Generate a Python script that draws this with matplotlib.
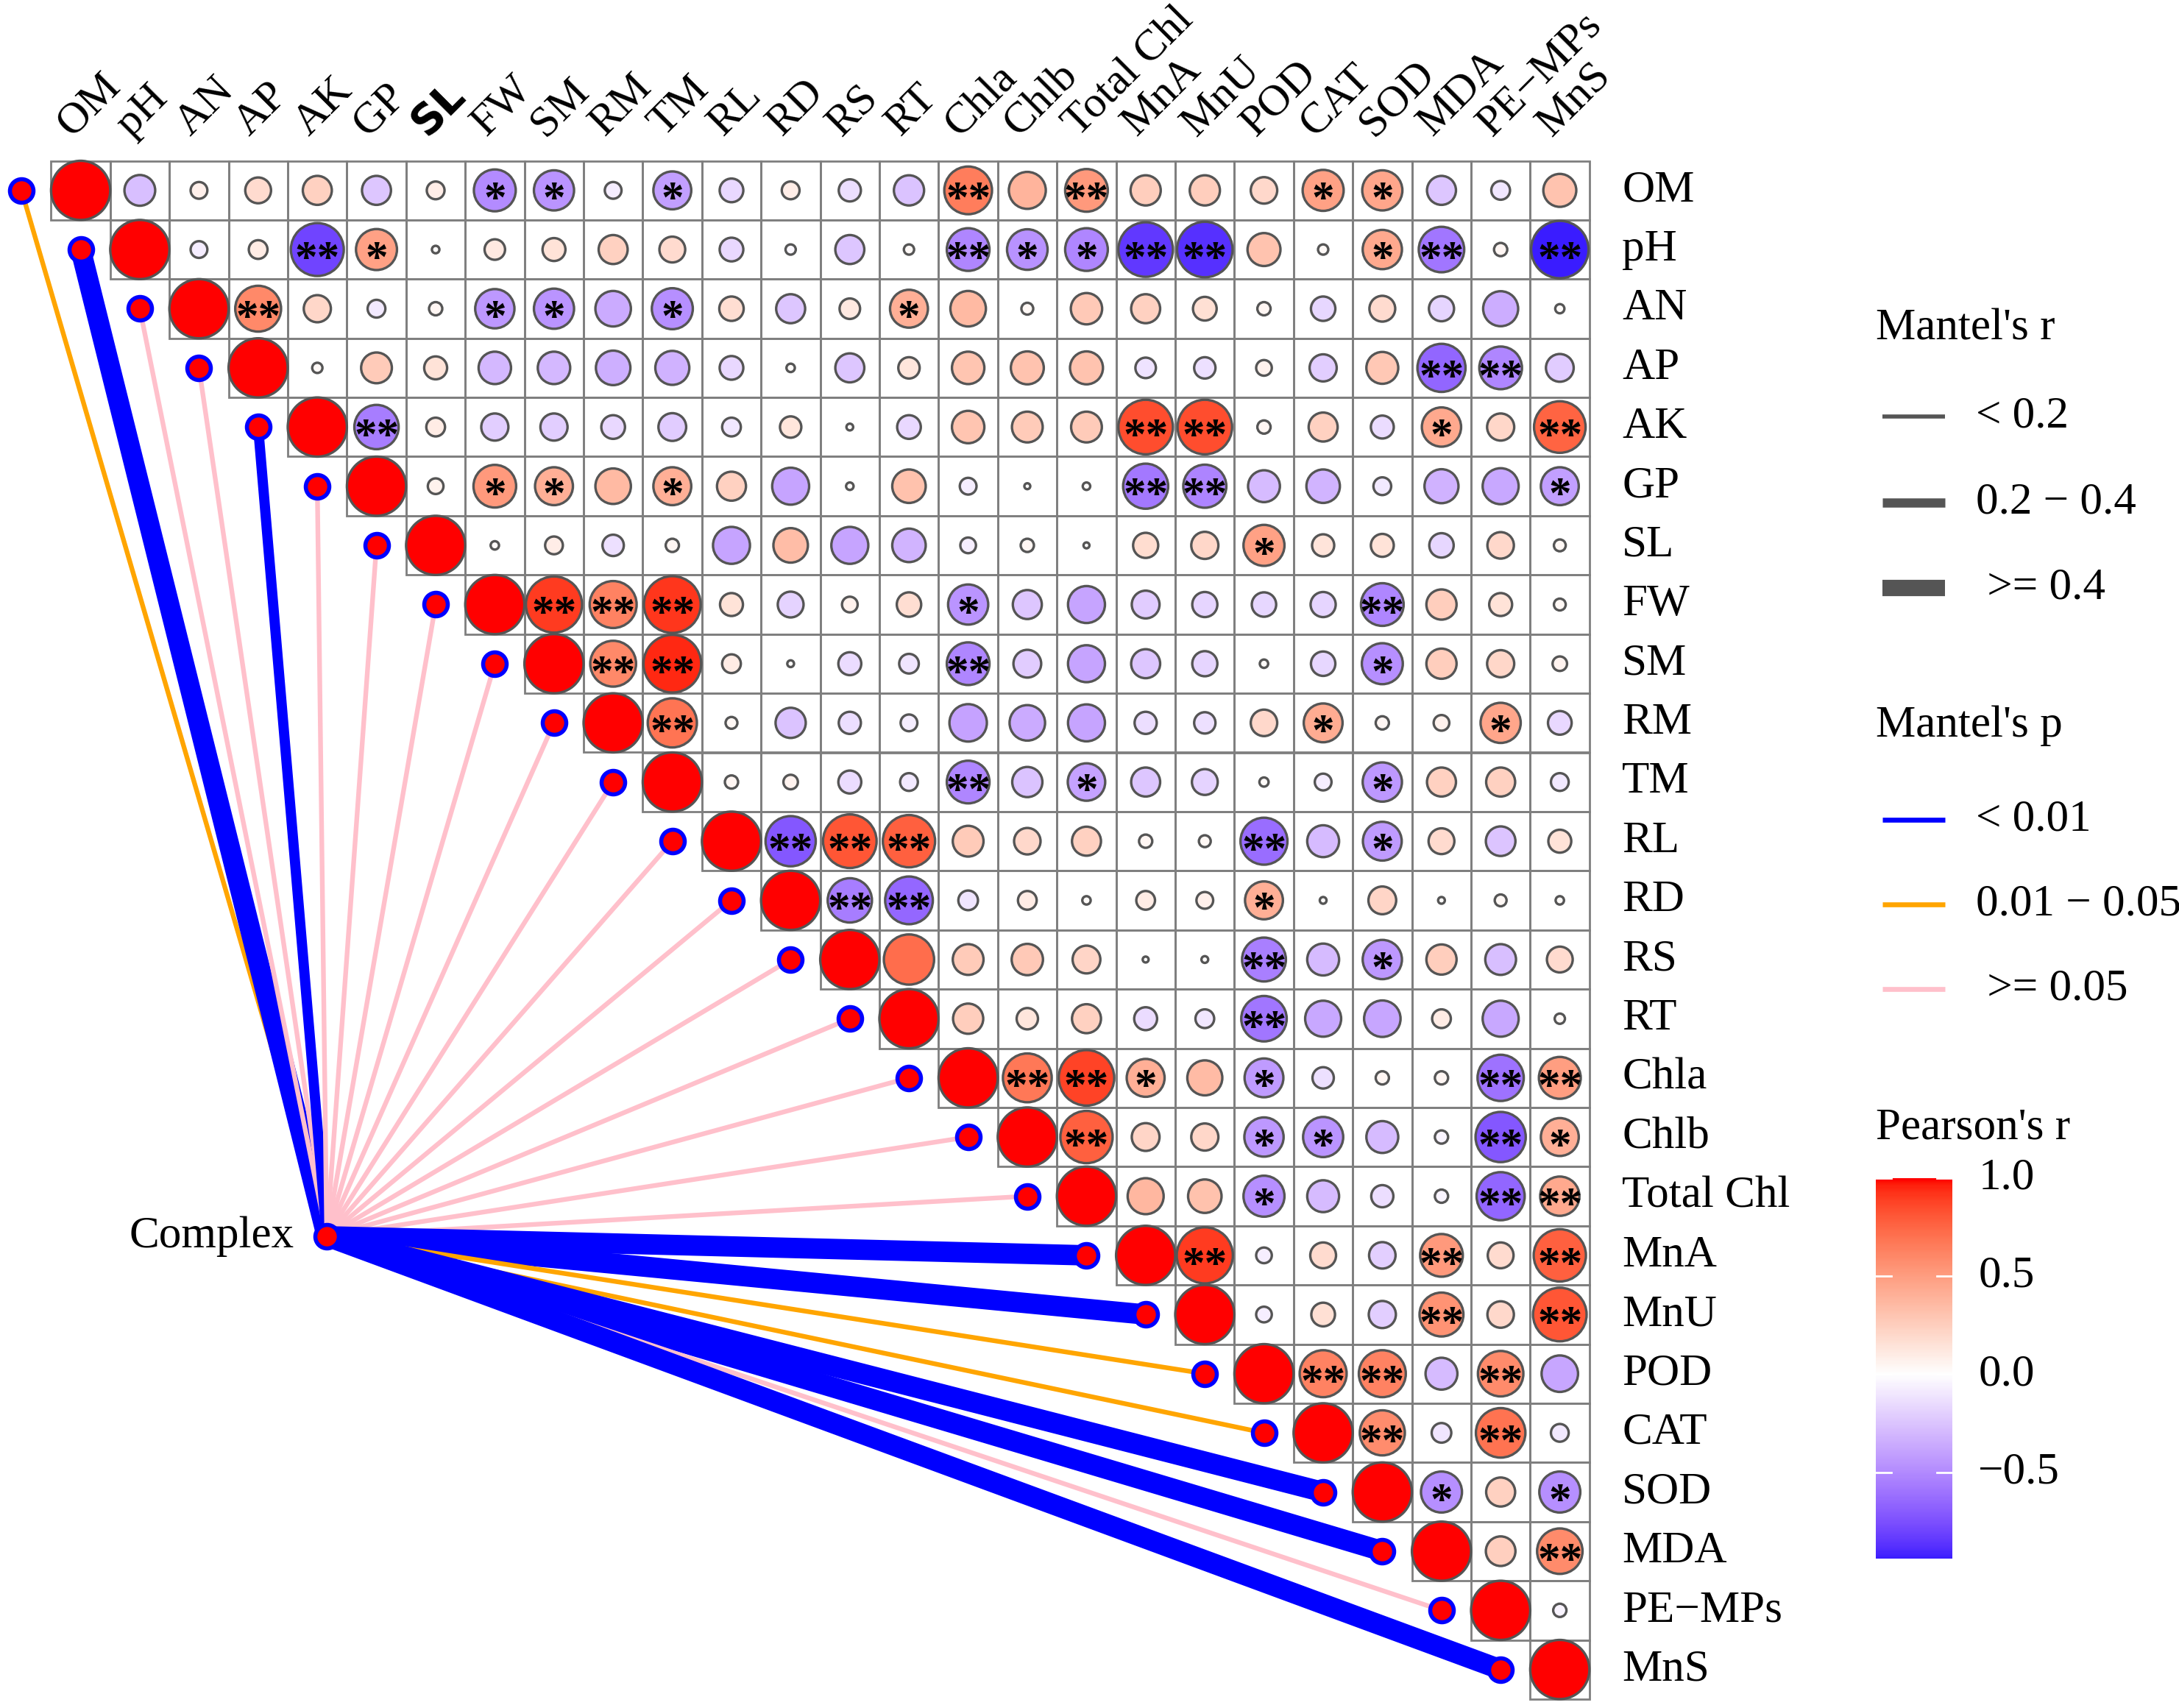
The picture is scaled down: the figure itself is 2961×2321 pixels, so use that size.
import numpy as np
import matplotlib
matplotlib.use("Agg")
import matplotlib.pyplot as plt
import matplotlib.colors as mcolors
from matplotlib.patches import Circle, Rectangle

plt.rcParams['font.family'] = ['Liberation Serif', 'DejaVu Serif']

variables = ["OM", "pH", "AN", "AP", "AK", "GP", "SL", "FW", "SM", "RM", "TM",
             "RL", "RD", "RS", "RT", "Chla", "Chlb", "Total Chl", "MnA", "MnU",
             "POD", "CAT", "SOD", "MDA", "PE\u2212MPs", "MnS"]

# Pearson's r, upper triangle: row i holds the values for columns i+1 .. 25
r_rows = [
    [-0.27, 0.08, 0.19, 0.24, -0.24, 0.09, -0.5, -0.46, -0.08, -0.41, -0.16, 0.09, -0.14,
     -0.26, 0.65, 0.39, 0.52, 0.26, 0.26, 0.2, 0.48, 0.46, -0.24, -0.1, 0.31],
    [-0.08, 0.1, -0.8, 0.48, 0.016, 0.12, 0.15, 0.24, 0.19, -0.16, -0.03, -0.24, 0.03,
     -0.52, -0.47, -0.52, -0.85, -0.88, 0.31, 0.03, 0.44, -0.59, 0.05, -0.94],
    [0.6, 0.21, -0.09, 0.05, -0.44, -0.46, -0.36, -0.48, 0.17, -0.24, 0.12, 0.41, 0.36,
     0.04, 0.28, 0.24, 0.16, 0.05, -0.17, 0.19, -0.18, -0.35, 0.024],
    [0.03, 0.27, 0.15, -0.3, -0.3, -0.34, -0.33, -0.16, 0.02, -0.24, 0.13, 0.3, 0.31,
     0.31, -0.12, -0.13, 0.07, -0.21, 0.29, -0.66, -0.52, -0.22],
    [-0.56, 0.1, -0.21, -0.21, -0.16, -0.22, -0.1, 0.13, 0.013, -0.16, 0.3, 0.27, 0.27,
     0.85, 0.85, 0.05, 0.24, -0.15, 0.44, 0.21, 0.76],
    [0.07, 0.52, 0.41, 0.36, 0.41, 0.24, -0.39, 0.016, 0.32, -0.08, 0.01, 0.016, -0.58,
     -0.53, -0.29, -0.32, -0.09, -0.33, -0.37, -0.41],
    [0.02, 0.09, -0.13, 0.05, -0.39, 0.34, -0.39, -0.32, -0.07, 0.05, 0.01, 0.18, 0.21,
     0.48, 0.14, 0.15, -0.17, 0.2, 0.04],
    [0.9, 0.63, 0.92, 0.15, -0.19, 0.07, 0.17, -0.46, -0.24, -0.39, -0.22, -0.18, -0.17,
     -0.18, -0.52, 0.26, 0.15, 0.04],
    [0.6, 0.95, 0.1, 0.013, -0.15, -0.11, -0.52, -0.22, -0.39, -0.24, -0.18, 0.02, -0.17,
     -0.48, 0.26, 0.21, 0.06],
    [0.69, 0.04, -0.26, -0.14, -0.08, -0.4, -0.36, -0.39, -0.14, -0.13, 0.2, 0.43, 0.05,
     0.07, 0.46, -0.16],
    [0.05, 0.06, -0.15, -0.09, -0.52, -0.26, -0.4, -0.24, -0.19, 0.024, -0.08, -0.44, 0.24,
     0.24, -0.09],
    [-0.72, 0.82, 0.78, 0.27, 0.2, 0.24, 0.05, 0.04, -0.63, -0.29, -0.43, 0.19, -0.25, 0.15],
    [-0.56, -0.65, -0.11, 0.1, 0.02, 0.1, 0.08, 0.41, 0.013, 0.22, 0.013, 0.04, 0.02],
    [0.72, 0.27, 0.28, 0.22, 0.01, 0.013, -0.55, -0.29, -0.44, 0.26, -0.27, 0.19],
    [0.26, 0.13, 0.24, -0.15, -0.1, -0.59, -0.37, -0.38, 0.1, -0.37, 0.03],
    [0.68, 0.88, 0.41, 0.35, -0.43, -0.13, 0.05, 0.05, -0.61, 0.5],
    [0.78, 0.22, 0.21, -0.44, -0.46, -0.29, -0.05, -0.72, 0.41],
    [0.37, 0.32, -0.48, -0.29, -0.14, -0.05, -0.66, 0.44],
    [0.9, -0.07, 0.19, -0.2, 0.52, 0.19, 0.78],
    [-0.07, 0.16, -0.21, 0.55, 0.2, 0.82],
    [0.63, 0.63, -0.29, 0.59, -0.38],
    [0.58, -0.11, 0.7, -0.09],
    [-0.48, 0.24, -0.48],
    [0.25, 0.59],
    [-0.05],
]

star_rows = [
    ["", "", "", "", "", "", "*", "*", "", "*", "", "", "", "", "**", "", "**", "", "", "", "*", "*", "", "", ""],
    ["", "", "**", "*", "", "", "", "", "", "", "", "", "", "**", "*", "*", "**", "**", "", "", "*", "**", "", "**"],
    ["**", "", "", "", "*", "*", "", "*", "", "", "", "*", "", "", "", "", "", "", "", "", "", "", ""],
    ["", "", "", "", "", "", "", "", "", "", "", "", "", "", "", "", "", "", "", "**", "**", ""],
    ["**", "", "", "", "", "", "", "", "", "", "", "", "", "**", "**", "", "", "", "*", "", "**"],
    ["", "*", "*", "", "*", "", "", "", "", "", "", "", "**", "**", "", "", "", "", "", "*"],
    ["", "", "", "", "", "", "", "", "", "", "", "", "", "*", "", "", "", "", ""],
    ["**", "**", "**", "", "", "", "", "*", "", "", "", "", "", "", "**", "", "", ""],
    ["**", "**", "", "", "", "", "**", "", "", "", "", "", "", "*", "", "", ""],
    ["**", "", "", "", "", "", "", "", "", "", "", "*", "", "", "*", ""],
    ["", "", "", "", "**", "", "*", "", "", "", "", "*", "", "", ""],
    ["**", "**", "**", "", "", "", "", "", "**", "", "*", "", "", ""],
    ["**", "**", "", "", "", "", "", "*", "", "", "", "", ""],
    ["", "", "", "", "", "", "**", "", "*", "", "", ""],
    ["", "", "", "", "", "**", "", "", "", "", ""],
    ["**", "**", "*", "", "*", "", "", "", "**", "**"],
    ["**", "", "", "*", "*", "", "", "**", "*"],
    ["", "", "*", "", "", "", "**", "**"],
    ["**", "", "", "", "**", "", "**"],
    ["", "", "", "**", "", "**"],
    ["**", "**", "", "**", ""],
    ["**", "", "**", ""],
    ["*", "", "*"],
    ["", "**"],
    [""],
]

# Mantel test of each variable against "Complex"
mantel_r = [0.1, 0.5, 0.1, 0.1, 0.3, 0.1, 0.1, 0.1, 0.1, 0.1, 0.1, 0.1, 0.1,
            0.1, 0.1, 0.1, 0.1, 0.1, 0.5, 0.5, 0.1, 0.1, 0.5, 0.5, 0.1, 0.5]
mantel_p = [0.03, 0.001, 0.3, 0.3, 0.001, 0.3, 0.3, 0.3, 0.3, 0.3, 0.3, 0.3, 0.3,
            0.3, 0.3, 0.3, 0.3, 0.3, 0.001, 0.001, 0.03, 0.03, 0.001, 0.001, 0.3, 0.001]

r_labels = ["< 0.2", "0.2 \u2212 0.4", " >= 0.4"]
p_labels = ["< 0.01", "0.01 \u2212 0.05", " >= 0.05"]
r_widths = [2.3, 5.0, 10.0]
p_colors = ["#0000FF", "#FFA500", "#FFC0CB"]
cbar_ticks = [1.0, 0.5, 0.0, -0.5]


# ggplot-like gradient2 (blue - white - red, interpolated in Lab)
M = np.array([[0.4124564, 0.3575761, 0.1804375],
              [0.2126729, 0.7151522, 0.0721750],
              [0.0193339, 0.1191920, 0.9503041]])
WHITE = np.array([0.95047, 1.0, 1.08883])


def to_lab(c):
    rgb = np.array(mcolors.to_rgb(c))
    lin = np.where(rgb <= 0.04045, rgb / 12.92, ((rgb + 0.055) / 1.055) ** 2.4)
    xyz = M @ lin / WHITE
    f = np.where(xyz > 216 / 24389, np.cbrt(xyz), (24389 / 27 * xyz + 16) / 116)
    return np.array([116 * f[1] - 16, 500 * (f[0] - f[1]), 200 * (f[1] - f[2])])


def from_lab(lab):
    fy = (lab[0] + 16) / 116
    f = np.array([fy + lab[1] / 500, fy, fy - lab[2] / 200])
    xyz = np.where(f ** 3 > 216 / 24389, f ** 3, (116 * f - 16) / (24389 / 27)) * WHITE
    lin = np.clip(np.linalg.solve(M, xyz), 0, 1)
    rgb = np.where(lin <= 0.0031308, 12.92 * lin, 1.055 * lin ** (1 / 2.4) - 0.055)
    return np.clip(rgb, 0, 1)


lab_b, lab_w, lab_r = to_lab("blue"), to_lab("white"), to_lab("red")
cols = []
for v in np.linspace(-1, 1, 257):
    end = lab_b if v < 0 else lab_r
    cols.append(from_lab(lab_w + (end - lab_w) * abs(v)))
cmap = mcolors.ListedColormap(cols)
norm = mcolors.Normalize(-1, 1)

# layout (pixels of the 2961 x 2321 picture)
W, H, DPI = 2961, 2321, 200
X0, Y0, CELL = 109.6, 258.7, 80.4


def dx(px):
    return (px - X0) / CELL


def dy(px):
    return (px - Y0) / CELL


fig = plt.figure(figsize=(W / DPI, H / DPI), dpi=DPI)
ax = fig.add_axes([0, 0, 1, 1])
ax.set_xlim(dx(0), dx(W))
ax.set_ylim(dy(H), dy(0))
ax.axis("off")

n = len(variables)
FS = 22

# Mantel links
cx, cy = dx(444), dy(1680)


def r_class(v):
    return 0 if v < 0.2 else (1 if v < 0.4 else 2)


def p_class(v):
    return 0 if v < 0.01 else (1 if v < 0.05 else 2)


for i in range(n):
    ax.plot([cx, i - 1], [cy, i], color=p_colors[p_class(mantel_p[i])],
            lw=r_widths[r_class(mantel_r[i])], solid_capstyle="butt", zorder=1)
    ax.plot(i - 1, i, "o", ms=11.5, mfc="#FF0000", mec="#0000FF", mew=2, zorder=3)
ax.plot(cx, cy, "o", ms=11.5, mfc="#FF0000", mec="#0000FF", mew=2, zorder=3)
ax.text(dx(400), cy, "Complex", ha="right", va="center", fontsize=FS)

# correlation cells
for i in range(n):
    for j in range(i, n):
        ax.add_patch(Rectangle((j - 0.5, i - 0.5), 1, 1, fill=False,
                               ec="#7f7f7f", lw=1.0, zorder=2))
        v = 1.0 if j == i else r_rows[i][j - i - 1]
        ax.add_patch(Circle((j, i), 0.5 * np.sqrt(abs(v)), fc=cmap(norm(v)),
                            ec="#555555", lw=1.2, zorder=4))
        if j > i and star_rows[i][j - i - 1]:
            ax.text(j, i + 0.37, star_rows[i][j - i - 1], ha="center",
                    va="baseline", fontsize=22, weight="bold", zorder=5)

# labels
for i, name in enumerate(variables):
    ax.text(26.05, i, name, ha="left", va="center", fontsize=FS)
    fam = ["DejaVu Sans"] if name == "SL" else ["Liberation Serif", "DejaVu Serif"]
    ax.text(i - 0.15, -0.9, name, rotation=45, rotation_mode="anchor",
            ha="left", va="baseline", fontsize=20.5 if name == "SL" else 21.5,
            family=fam, weight="bold" if name == "SL" else "normal")

# legends
lx0, lx1, tx = dx(2558), dx(2643), dx(2685)
ax.text(dx(2549), dy(447), "Mantel's r", ha="left", va="center", fontsize=FS)
for k, ypx in enumerate([566, 683, 799]):
    ax.plot([lx0, lx1], [dy(ypx), dy(ypx)], color="#555555", lw=[2.0, 4.5, 8.0][k],
            solid_capstyle="butt")
    ax.text(tx, dy(ypx), r_labels[k], ha="left", va="center", fontsize=FS)
ax.text(dx(2549), dy(986), "Mantel's p", ha="left", va="center", fontsize=FS)
for k, ypx in enumerate([1114, 1229, 1344]):
    ax.plot([lx0, lx1], [dy(ypx), dy(ypx)], color=p_colors[k], lw=2.4,
            solid_capstyle="butt")
    ax.text(tx, dy(ypx), p_labels[k], ha="left", va="center", fontsize=FS)
ax.text(dx(2549), dy(1533), "Pearson's r", ha="left", va="center", fontsize=FS)

all_r = [v for row in r_rows for v in row]
low = min(all_r)
cax = fig.add_axes([2549 / W, 1 - 2118 / H, 104 / W, (2118 - 1601) / H])
cax.imshow(np.linspace(low, 1, 300)[:, None], cmap=cmap, norm=norm, aspect="auto",
           origin="lower", extent=[0, 1, low, 1])
cax.set_xlim(0, 1)
cax.set_ylim(low, 1)
cax.axis("off")
for t in cbar_ticks:
    cax.plot([0, 0.2], [t, t], color="white", lw=1)
    cax.plot([0.8, 1], [t, t], color="white", lw=1)
    cax.text(1.34, t, f"{t:.1f}".replace("-", "\u2212"), ha="left", va="center",
             fontsize=FS, transform=cax.transData, clip_on=False)

fig.savefig("out.png", dpi=DPI)
